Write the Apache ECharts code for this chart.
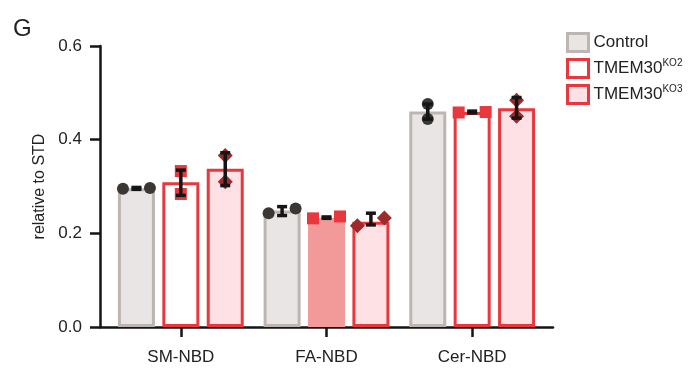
<!DOCTYPE html>
<html>
<head>
<meta charset="utf-8">
<script src="https://cdn.jsdelivr.net/npm/echarts@6/dist/echarts.min.js"></script>
<style>html,body{margin:0;padding:0;background:#fff}#c{width:693px;height:368px}</style>
</head>
<body>
<div id="c"></div>
<script>
// ---- data ----
const categories = ['SM-NBD', 'FA-NBD', 'Cer-NBD'];
const seriesNames = ['Control', 'TMEM30KO2', 'TMEM30KO3'];
const yTicks = [0.0, 0.2, 0.4, 0.6];

const controlMean = [0.296, 0.249, 0.460];
const ko2Mean     = [0.309, 0.233, 0.459];
const ko3Mean     = [0.338, 0.225, 0.467];

const controlErr = [[0.294, 0.298], [0.238, 0.257], [0.444, 0.476]];
const ko2Err     = [[0.281, 0.335], [0.232, 0.235], [0.457, 0.461]];
const ko3Err     = [[0.302, 0.372], [0.218, 0.243], [0.446, 0.490]];

const controlPts = [[0.295, 0.297], [0.243, 0.253], [0.444, 0.476]];
const ko2Pts     = [[0.284, 0.333], [0.232, 0.236], [0.458, 0.459]];
const ko3Pts     = [[0.310, 0.366], [0.216, 0.233], [0.450, 0.484]];

// ---- styling ----
const FONT = 'Liberation Sans, Arial, Helvetica, sans-serif';
const BAR_W = 37, BAR_GAP = 0.2, BORDER = 3;
const STEP = BAR_W * (1 + BAR_GAP);
const fills   = ['#e9e5e4', '#ffffff', '#fde1e4'];
const borders = ['#bdb5b2', '#e8383d', '#e8383d'];
const markerColor = ['#3a3735', '#e8383d', '#9e2a2b'];
const specialFill = { '1_1': '#f29a9a' }; // series 1, category 1

const means = [controlMean, ko2Mean, ko3Mean];
const errs = [controlErr, ko2Err, ko3Err];
const pts = [controlPts, ko2Pts, ko3Pts];

const barSeries = seriesNames.map((name, s) => ({
  type: 'bar',
  name: name,
  barWidth: BAR_W,
  barGap: (BAR_GAP * 100) + '%',
  itemStyle: { color: fills[s], borderColor: borders[s], borderWidth: BORDER },
  data: means[s].map((v, c) => {
    const sp = specialFill[s + '_' + c];
    return sp ? { value: v, itemStyle: { color: sp, borderColor: sp } } : v;
  }),
  z: 2
}));

const pointData = [], errData = [];
for (let s = 0; s < 3; s++) {
  for (let c = 0; c < categories.length; c++) {
    pointData.push([c, s, pts[s][c][0], pts[s][c][1]]);
    errData.push([c, s, errs[s][c][0], errs[s][c][1]]);
  }
}

function marker(s, x, y) {
  const col = markerColor[s];
  if (s === 0) return { type: 'circle', shape: { cx: x, cy: y, r: 6 }, style: { fill: col } };
  if (s === 1) return { type: 'rect', shape: { x: x - 6, y: y - 6, width: 12, height: 12 }, style: { fill: col } };
  return { type: 'polygon', shape: { points: [[x, y - 7.5], [x + 7.5, y], [x, y + 7.5], [x - 7.5, y]] }, style: { fill: col } };
}

const pointSeries = {
  type: 'custom',
  silent: true,
  z: 5,
  encode: { x: 0, y: [2, 3] },
  data: pointData,
  renderItem: function (params, api) {
    const c = api.value(0), s = api.value(1);
    const p1 = api.coord([c, api.value(2)]);
    const p2 = api.coord([c, api.value(3)]);
    const cx = p1[0] + (s - 1) * STEP;
    const spread = Math.abs(p1[1] - p2[1]) < 12 ? 13.5 : 0;
    return { type: 'group', children: [marker(s, cx - spread, p1[1]), marker(s, cx + spread, p2[1])] };
  }
};

const errSeries = {
  type: 'custom',
  silent: true,
  z: 6,
  encode: { x: 0, y: [2, 3] },
  data: errData,
  renderItem: function (params, api) {
    const c = api.value(0), s = api.value(1);
    const lo = api.coord([c, api.value(2)]);
    const hi = api.coord([c, api.value(3)]);
    const cx = lo[0] + (s - 1) * STEP;
    const st = { stroke: '#151515', lineWidth: 3.5 };
    return { type: 'group', children: [
      { type: 'line', shape: { x1: cx, y1: lo[1], x2: cx, y2: hi[1] }, style: st },
      { type: 'line', shape: { x1: cx - 5, y1: lo[1], x2: cx + 5, y2: lo[1] }, style: st },
      { type: 'line', shape: { x1: cx - 5, y1: hi[1], x2: cx + 5, y2: hi[1] }, style: st }
    ] };
  }
};

const chart = echarts.init(document.getElementById('c'), null, { renderer: 'canvas' });
chart.setOption({
  animation: false,
  backgroundColor: '#fff',
  textStyle: { fontFamily: FONT },
  title: { text: 'G', left: 8, top: 12, textStyle: { fontSize: 24, fontWeight: 'normal', color: '#222', fontFamily: FONT } },
  legend: {
    orient: 'vertical', left: 566, top: 32,
    itemWidth: 21, itemHeight: 18, itemGap: 5, padding: 0,
    selectedMode: false,
    data: seriesNames.map((n, s) => ({ name: n, icon: 'rect', itemStyle: { color: fills[s], borderColor: borders[s], borderWidth: 3 } })),
    formatter: function (n) { return n.indexOf('TMEM30') === 0 ? 'TMEM30{sup|' + n.slice(6) + '}' : n; },
    textStyle: {
      fontSize: 17, color: '#222', fontFamily: FONT, lineHeight: 20,
      rich: { sup: { fontSize: 10, color: '#222', fontFamily: FONT, verticalAlign: 'top', lineHeight: 20, padding: [0, 0, 8, 0] } }
    }
  },
  grid: [
    { left: 108, right: 148, top: 46, bottom: 41 },
    { left: 100, right: 140, top: 46, bottom: 41 }
  ],
  xAxis: [
    {
      type: 'category', gridIndex: 0, data: categories,
      axisLine: { show: false },
      axisTick: { show: true, alignWithLabel: true, length: 10, lineStyle: { color: '#151515', width: 2.5 } },
      axisLabel: { fontSize: 17, color: '#222', margin: 22, fontFamily: FONT }
    },
    {
      type: 'value', gridIndex: 1, min: 0, max: 1,
      axisLine: { show: true, lineStyle: { color: '#151515', width: 2.5 } },
      axisTick: { show: false }, axisLabel: { show: false }, splitLine: { show: false }
    }
  ],
  yAxis: [
    {
      type: 'value', gridIndex: 0, min: yTicks[0], max: yTicks[yTicks.length - 1], interval: 0.2, offset: 8,
      name: 'relative to STD', nameLocation: 'middle', nameGap: 52,
      nameTextStyle: { fontSize: 16, color: '#222', fontFamily: FONT },
      axisLine: { show: true, lineStyle: { color: '#151515', width: 2.5 } },
      axisTick: { show: true, length: 10, lineStyle: { color: '#151515', width: 2.5 } },
      axisLabel: { fontSize: 17, color: '#222', margin: 18, fontFamily: FONT, formatter: v => v.toFixed(1) },
      splitLine: { show: false }
    },
    { type: 'value', gridIndex: 1, show: false, min: 0, max: 1 }
  ],
  series: barSeries.concat([pointSeries, errSeries])
});
</script>
</body>
</html>
